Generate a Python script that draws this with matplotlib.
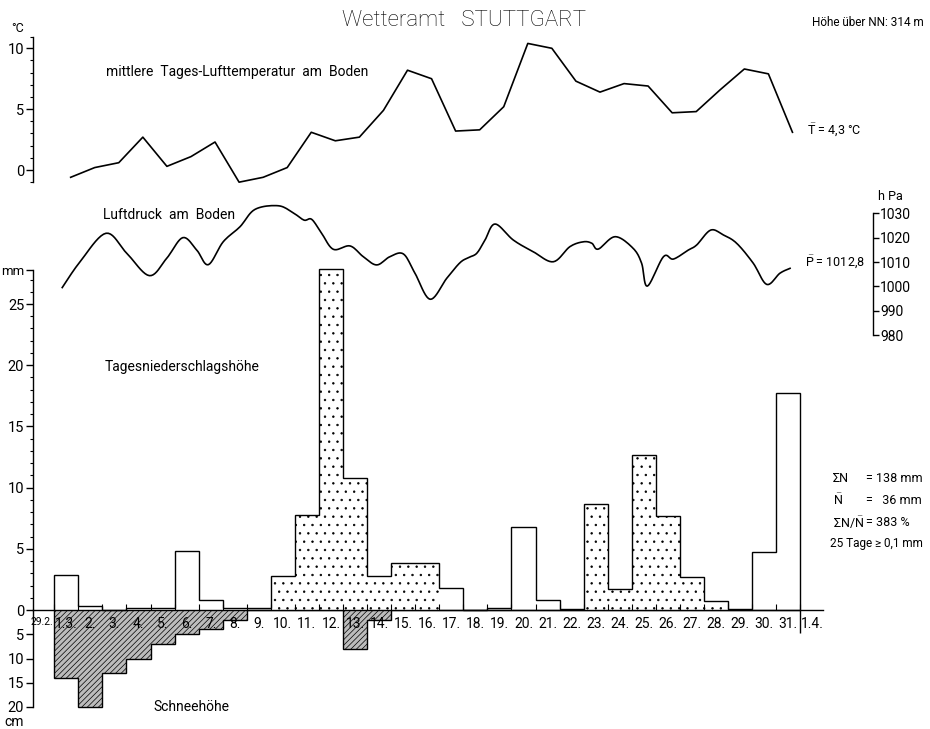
import numpy as np
import matplotlib
matplotlib.use('Agg')
import matplotlib.pyplot as plt
from matplotlib import font_manager
from matplotlib.ticker import FixedLocator

# ---------------- data ----------------
day_labels = ['29.2.', '1.3.'] + [f'{d}.' for d in range(2, 32)] + ['1.4.']
days = np.arange(1, 32)

# mean daily air temperature (deg C)
temperature = [-0.6, 0.2, 0.6, 2.7, 0.3, 1.1, 2.3, -1.0, -0.6, 0.2,
               3.1, 2.4, 2.7, 4.9, 8.2, 7.5, 3.2, 3.3, 5.2, 10.4,
               10.0, 7.3, 6.4, 7.1, 6.9, 4.7, 4.8, 6.6, 8.3, 7.9, 3.1]

# surface pressure (hPa), time in days since 1.3. 0 h
pressure_time = [0.33, 1.07, 2.15, 3.01, 3.95, 4.67, 5.34, 5.92, 6.40, 7.02,
                 7.72, 8.34, 9.31, 9.93, 10.38, 10.70, 11.11, 11.60, 12.29, 12.84,
                 13.40, 13.95, 14.51, 14.99, 15.62, 16.31, 16.86, 17.21, 17.56, 17.90,
                 18.32, 19.08, 19.91, 20.74, 21.43, 21.99, 22.34, 22.61, 23.31, 24.06,
                 24.41, 24.65, 25.32, 25.73, 26.35, 26.70, 27.28, 27.81, 28.36, 29.05,
                 29.61, 30.16, 30.58]
pressure = [999.5, 1010.1, 1021.8, 1013.6, 1004.4, 1011.5, 1020.0, 1014.9, 1008.9, 1018.3,
            1024.5, 1031.6, 1033.1, 1030.2, 1027.2, 1027.5, 1021.8, 1015.2, 1016.6, 1012.2,
            1008.8, 1012.2, 1013.3, 1005.4, 994.7, 1003.3, 1009.7, 1011.8, 1013.6, 1019.0,
            1025.6, 1019.0, 1014.2, 1010.1, 1016.3, 1018.3, 1017.7, 1015.3, 1020.4, 1015.6,
            1009.5, 1000.1, 1012.2, 1011.2, 1014.9, 1017.0, 1023.1, 1021.1, 1017.7, 1009.5,
            1000.8, 1005.4, 1007.4]

# daily precipitation (mm)
precip = [2.9, 0.3, 0.0, 0.2, 0.2, 4.8, 0.8, 0.2, 0.2, 2.8,
          7.8, 27.9, 10.8, 2.8, 3.8, 3.8, 1.8, 0.0, 0.2, 6.8,
          0.8, 0.1, 8.7, 1.7, 12.7, 7.7, 2.7, 0.7, 0.1, 4.7, 17.7]
# stippled (rain) periods: first and last day
rain_periods = [(10, 16), (23, 28)]

# snow depth (cm)
snow = [14, 20, 13, 10, 7, 5, 4, 2, 0, 0,
        0, 0, 8, 2, 0, 0, 0, 0, 0, 0,
        0, 0, 0, 0, 0, 0, 0, 0, 0, 0, 0]

precip_ticks = [0, 5, 10, 15, 20, 25]
temp_ticks = [0, 5, 10]
snow_ticks = [5, 10, 15, 20]
pressure_ticks = [980, 990, 1000, 1010, 1020, 1030]

stats_left = ['\u03a3N', r'$\bar{\mathrm{N}}$', r'$\Sigma$N/$\bar{\mathrm{N}}$', '25 Tage \u2265']
stats_right = ['= 138 mm', '=   36 mm', '= 383 %', '0,1 mm']

# ---------------- style ----------------
names = {f.name for f in font_manager.fontManager.ttflist}
FONT = 'Roboto' if 'Roboto' in names else 'DejaVu Sans'
plt.rcParams['font.family'] = [FONT, 'DejaVu Sans']
plt.rcParams['mathtext.fontset'] = 'custom'
plt.rcParams['mathtext.rm'] = FONT
plt.rcParams['mathtext.it'] = FONT
plt.rcParams['mathtext.bf'] = FONT
plt.rcParams['hatch.linewidth'] = 0.5

W, H = 930, 729
X0, DX = 54.3, 24.06          # pixel of day-1 start, pixels per day
xlim = (-X0 / DX, (W - X0) / DX)
AX_X = (32.5 - X0) / DX       # left axis position
PR_X = (873 - X0) / DX        # pressure axis position
X_END = (823 - X0) / DX

fig = plt.figure(figsize=(W / 100, H / 100), dpi=100)


def overlay(ylim, z):
    a = fig.add_axes([0, 0, 1, 1])
    a.set_facecolor('none')
    a.set_xlim(xlim)
    a.set_ylim(ylim)
    for s in a.spines.values():
        s.set_visible(False)
    a.set_xticks([])
    a.set_yticks([])
    a.set_zorder(z)
    return a


ax_s = overlay(((729 - 610) / 4.85, (0 - 610) / 4.85), 0)            # snow, downward
ax_p = overlay(((610 - 729) / 12.24, 610 / 12.24), 2)                # precipitation
ax_t = overlay(((170 - 729) / 12.17, 170 / 12.17), 3)                # temperature
ax_pr = overlay((1030 - (729 - 213.3) / 2.435, 1030 + 213.3 / 2.435), 4)  # pressure

edges = np.arange(0, len(precip) + 1)
LW = 1.0

# ---- snow ----
ax_s.stairs(snow, edges, baseline=0, fill=True, facecolor='#bcbcbc',
            edgecolor='black', lw=0, hatch='//////')
ax_s.stairs(snow, edges, baseline=0, color='black', lw=LW)
ax_s.spines['left'].set_visible(True)
ax_s.spines['left'].set_position(('data', AX_X))
ax_s.spines['left'].set_bounds(0, 20)
ax_s.spines['left'].set_linewidth(LW)
ax_s.yaxis.set_ticks_position('left')
ax_s.set_yticks(snow_ticks)
ax_s.set_yticklabels([str(v) for v in snow_ticks])
ax_s.tick_params(axis='y', direction='out', length=5, width=LW, labelsize=10.5, pad=1)

# ---- precipitation ----
for a, b in rain_periods:
    ax_p.stairs(precip[a - 1:b], edges[a - 1:b + 1], baseline=0, fill=True,
                facecolor='white', edgecolor='black', lw=0, hatch='..')
ax_p.stairs(precip, edges, baseline=0, color='black', lw=LW)
ax_p.vlines(edges[-1], -1.9, 0, color='black', lw=LW)

sp = ax_p.spines['left']
sp.set_visible(True)
sp.set_position(('data', AX_X))
sp.set_bounds(0, 27.8)
sp.set_linewidth(LW)
ax_p.yaxis.set_ticks_position('left')
ax_p.set_yticks(precip_ticks + [27.8])
ax_p.set_yticklabels([str(v) for v in precip_ticks] + ['mm'])
ax_p.yaxis.set_minor_locator(FixedLocator(np.arange(1, 28)))
ax_p.tick_params(axis='y', which='major', direction='out', length=5, width=LW, labelsize=10.5, pad=1)
ax_p.tick_params(axis='y', which='minor', direction='out', length=2.5, width=0.8)
ax_p.get_yticklabels()[-1].set_fontsize(9.5)

sb = ax_p.spines['bottom']
sb.set_visible(True)
sb.set_position(('data', 0))
sb.set_bounds(AX_X, X_END)
sb.set_linewidth(LW)
ax_p.xaxis.set_ticks_position('bottom')
centers = np.arange(-1, len(precip) + 1) + 0.5
ax_p.set_xticks(centers)
ax_p.set_xticklabels(day_labels)
ax_p.xaxis.set_minor_locator(FixedLocator(edges))
ax_p.tick_params(axis='x', which='major', length=0, labelsize=10, pad=5)
ax_p.tick_params(axis='x', which='minor', direction='in', length=4, width=0.8)
ax_p.get_xticklabels()[0].set_fontsize(7.5)

# ---- temperature ----
ax_t.plot(days - 0.32, temperature, color='black', lw=1.2)
st = ax_t.spines['left']
st.set_visible(True)
st.set_position(('data', AX_X))
st.set_bounds(-1, 10.9)
st.set_linewidth(LW)
ax_t.yaxis.set_ticks_position('left')
ax_t.set_yticks(temp_ticks)
ax_t.set_yticklabels([str(v) for v in temp_ticks])
ax_t.yaxis.set_minor_locator(FixedLocator(list(range(-1, 11)) + [10.9]))
ax_t.tick_params(axis='y', which='major', direction='out', length=5, width=LW, labelsize=10.5, pad=1)
ax_t.tick_params(axis='y', which='minor', direction='out', length=2.5, width=0.8)


# ---- pressure (smooth curve through read values) ----
def catmull_rom(x, y, n=10):
    P = np.column_stack([x, y]).astype(float)
    P = np.vstack([P[0], P, P[-1]])
    t = np.linspace(0, 1, n, endpoint=False)[:, None]
    out = []
    for i in range(1, len(P) - 2):
        p0, p1, p2, p3 = P[i - 1], P[i], P[i + 1], P[i + 2]
        out.append(0.5 * (2 * p1 + (-p0 + p2) * t + (2 * p0 - 5 * p1 + 4 * p2 - p3) * t ** 2
                          + (-p0 + 3 * p1 - 3 * p2 + p3) * t ** 3))
    out.append(P[-2][None])
    return np.vstack(out)


curve = catmull_rom(pressure_time, pressure)
ax_pr.plot(curve[:, 0], curve[:, 1], color='black', lw=1.2)
spr = ax_pr.spines['right']
spr.set_visible(True)
spr.set_position(('data', PR_X))
spr.set_bounds(980, 1030)
spr.set_linewidth(LW)
ax_pr.yaxis.set_ticks_position('right')
ax_pr.set_yticks(pressure_ticks)
ax_pr.set_yticklabels([str(v) for v in pressure_ticks])
ax_pr.tick_params(axis='y', direction='out', length=4, width=LW, labelsize=10, pad=1)


# ---------------- texts ----------------
def T(px, py, s, size=10, ha='left', **kw):
    fig.text(px / W, 1 - py / H, s, fontsize=size, ha=ha, va='center', **kw)


T(464, 21, 'Wetteramt   STUTTGART', size=16, ha='center', fontweight='light')
T(868, 22, 'H\u00f6he \u00fcber NN: 314 m', size=8.5, ha='center')
T(18, 29, '\u00b0C', size=9, ha='center')
T(106, 72, 'mittlere  Tages-Lufttemperatur  am  Boden', size=10)
T(807, 130, r'$\bar{\mathrm{T}}$ = 4,3 ' + '\u00b0C', size=9)
T(103, 215, 'Luftdruck  am  Boden', size=10)
T(805, 262, r'$\bar{\mathrm{P}}$ = 1012,8', size=9)
T(890, 197, 'h Pa', size=9, ha='center')
T(105, 367, 'Tagesniederschlagsh\u00f6he', size=10)
T(153, 707, 'Schneeh\u00f6he', size=10)
T(14, 722, 'cm', size=10, ha='center')
for i, (l, r) in enumerate(zip(stats_left, stats_right)):
    py = 478 + i * 22
    if i < 3:
        T(833, py, l, size=9)
        T(866, py, r, size=9)
    else:
        T(830, py, l + ' ' + r, size=8.5)

fig.savefig('out.png', dpi=100)
